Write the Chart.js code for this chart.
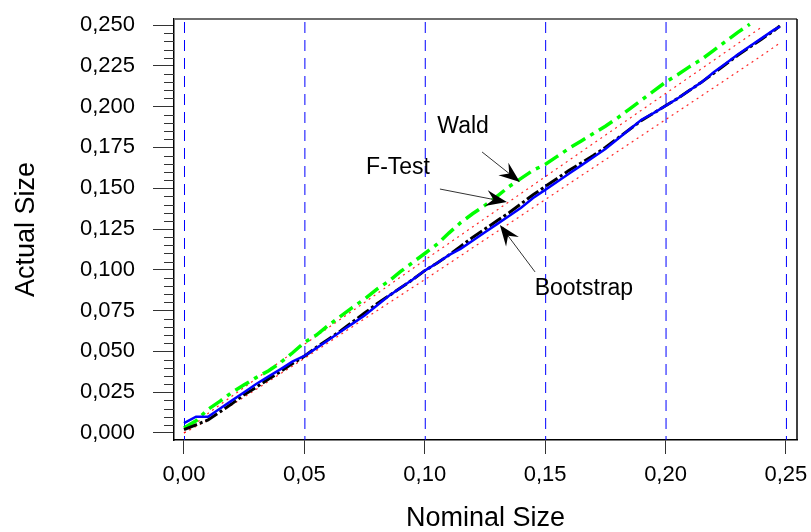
<!DOCTYPE html>
<html><head><meta charset="utf-8">
<script src="https://cdn.jsdelivr.net/npm/chart.js@4.4.0/dist/chart.umd.min.js"></script>
<style>html,body{margin:0;padding:0;background:#fff;}#wrap{width:811px;height:532px;}</style>
</head><body><div id="wrap"><canvas id="c" width="811" height="532"></canvas></div>
<script>
// ---- data ----
const nominal = [0,0.005,0.01,0.015,0.02,0.025,0.03,0.035,0.04,0.045,0.05,0.055,0.06,0.065,0.07,0.075,0.08,0.085,0.09,0.095,0.1,0.105,0.11,0.115,0.12,0.125,0.13,0.135,0.14,0.145,0.15,0.155,0.16,0.165,0.17,0.175,0.18,0.185,0.19,0.195,0.2,0.205,0.21,0.215,0.22,0.225,0.23,0.235,0.24,0.245,0.2475];
const bootstrap = [0.006,0.010,0.010,0.015,0.020,0.025,0.030,0.0345,0.039,0.0437,0.0472,0.052,0.057,0.062,0.067,0.072,0.078,0.084,0.089,0.094,0.0995,0.104,0.109,0.113,0.118,0.123,0.128,0.133,0.138,0.144,0.149,0.154,0.159,0.164,0.169,0.174,0.180,0.186,0.192,0.196,0.2005,0.205,0.210,0.215,0.221,0.2265,0.232,0.237,0.242,0.247,0.249];
const fTest = [0.002,0.005,0.008,0.013,0.018,0.0235,0.028,0.033,0.0375,0.0425,0.047,0.0525,0.0575,0.0625,0.068,0.0735,0.079,0.084,0.089,0.094,0.0995,0.104,0.109,0.1145,0.120,0.125,0.130,0.135,0.1405,0.146,0.151,0.156,0.161,0.1655,0.170,0.175,0.1805,0.186,0.1915,0.196,0.2005,0.205,0.210,0.215,0.2205,0.226,0.2315,0.2365,0.2415,0.2465,0.2495];
const wald = [0.003,0.0075,0.0145,0.0195,0.025,0.0295,0.034,0.038,0.043,0.049,0.0555,0.060,0.066,0.0715,0.077,0.082,0.088,0.093,0.099,0.1045,0.110,0.1155,0.1225,0.129,0.1345,0.1395,0.145,0.151,0.156,0.161,0.1645,0.1695,0.1745,0.179,0.1835,0.188,0.193,0.1985,0.204,0.2095,0.2150,0.2195,0.2245,0.229,0.2345,0.240,0.2455,0.2505,null,null,null];
const bandNominal = [0,0.01,0.025,0.05,0.075,0.1,0.125,0.15,0.175,0.2,0.225,0.24,0.2475];
const bandUpper = [0,0.012,0.028,0.0543,0.080,0.106,0.1315,0.157,0.1825,0.208,0.2335,0.2488,null];
const bandLower = [0,0.008,0.022,0.0457,0.070,0.094,0.1185,0.143,0.1675,0.192,0.2165,0.2313,0.239];
const xTickValues = [0,0.05,0.1,0.15,0.2,0.25];
const xTickLabels = ["0,00","0,05","0,10","0,15","0,20","0,25"];
const yTickValues = [0,0.025,0.05,0.075,0.1,0.125,0.15,0.175,0.2,0.225,0.25];
const yTickLabels = ["0,000","0,025","0,050","0,075","0,100","0,125","0,150","0,175","0,200","0,225","0,250"];
const seriesNames = ["Bootstrap","F-Test","Wald"];

// ---- annotation placement (data coordinates) ----
const notes = [
  {text:"Wald", tx:0.1159, ty:0.1875, from:[0.1238,0.1722], to:[0.1395,0.1538]},
  {text:"F-Test", tx:0.0889, ty:0.1627, from:[0.1063,0.1495], to:[0.1341,0.1415]},
  {text:"Bootstrap", tx:0.1661, ty:0.0885, from:[0.1458,0.0987], to:[0.1312,0.1275]}
];

const FONT = "'Liberation Sans', Arial, sans-serif";
function pts(xs, ys){ return xs.map((x,i)=>({x:x, y:ys[i]})); }

const deco = {
  id:'deco',
  beforeDatasetsDraw(chart){
    const {ctx, chartArea:a, scales:{x}} = chart;
    ctx.save();
    ctx.fillStyle = '#0000ff';
    xTickValues.forEach(v=>{
      const px = x.getPixelForValue(v);
      for (let yy = a.top + 3; yy < a.bottom; yy += 18) {
        ctx.fillRect(px, yy, 1, Math.min(11, a.bottom - yy));
      }
    });
    ctx.restore();
  },
  afterDraw(chart){
    const {ctx, chartArea:a, scales:{x,y}} = chart;
    ctx.save();
    ctx.setLineDash([]);
    ctx.strokeStyle = '#6e6e6e'; ctx.lineWidth = 2;
    ctx.beginPath(); ctx.moveTo(a.left, a.top); ctx.lineTo(a.right, a.top); ctx.stroke();
    ctx.strokeStyle = '#000'; ctx.lineWidth = 1.5;
    ctx.beginPath(); ctx.moveTo(a.right, a.top); ctx.lineTo(a.right, a.bottom); ctx.stroke();
    // minor y ticks
    ctx.strokeStyle = '#333'; ctx.lineWidth = 1;
    for (let i = 0; i <= 50; i++) {
      if (i % 5 === 0) continue;
      const py = Math.round(y.getPixelForValue(i * 0.005)) + 0.5;
      ctx.beginPath(); ctx.moveTo(a.left - 10, py); ctx.lineTo(a.left, py); ctx.stroke();
    }
    // annotations
    ctx.fillStyle = '#000'; ctx.font = "23px " + FONT;
    ctx.textAlign = 'center'; ctx.textBaseline = 'middle';
    notes.forEach(n=>{
      ctx.fillText(n.text, x.getPixelForValue(n.tx), y.getPixelForValue(n.ty));
      const x0 = x.getPixelForValue(n.from[0]), y0 = y.getPixelForValue(n.from[1]);
      const x1 = x.getPixelForValue(n.to[0]), y1 = y.getPixelForValue(n.to[1]);
      const dx = x1 - x0, dy = y1 - y0, len = Math.hypot(dx, dy);
      const ux = dx/len, uy = dy/len, nx = -uy, ny = ux;
      const L = 21, W = 8;
      ctx.strokeStyle = '#333'; ctx.lineWidth = 1;
      ctx.beginPath(); ctx.moveTo(x0, y0); ctx.lineTo(x1 - ux*L*0.6, y1 - uy*L*0.6); ctx.stroke();
      ctx.beginPath();
      ctx.moveTo(x1, y1);
      ctx.lineTo(x1 - ux*L + nx*W, y1 - uy*L + ny*W);
      ctx.lineTo(x1 - ux*L*0.65, y1 - uy*L*0.65);
      ctx.lineTo(x1 - ux*L - nx*W, y1 - uy*L - ny*W);
      ctx.closePath(); ctx.fill();
    });
    ctx.restore();
  }
};

function zeroPad(s){ s.paddingTop = 0; s.paddingBottom = 0; s.paddingLeft = 0; s.paddingRight = 0; }

new Chart(document.getElementById('c'), {
  type:'line',
  data:{datasets:[
    {label:seriesNames[0], data:pts(nominal, bootstrap), borderColor:'#0000ff', borderWidth:2.5, pointRadius:0, tension:0},
    {label:seriesNames[1], data:pts(nominal, fTest), borderColor:'#000000', borderWidth:3, borderDash:[14,3,3,3], pointRadius:0, tension:0},
    {label:seriesNames[2], data:pts(nominal, wald), borderColor:'#00ff00', borderWidth:3.5, borderDash:[16,6,4,6], pointRadius:0, tension:0},
    {label:'upper', data:pts(bandNominal, bandUpper), borderColor:'rgba(255,0,0,0.85)', borderWidth:1.2, borderDash:[2,4], pointRadius:0, tension:0},
    {label:'lower', data:pts(bandNominal, bandLower), borderColor:'rgba(255,0,0,0.85)', borderWidth:1.2, borderDash:[2,4], pointRadius:0, tension:0}
  ]},
  options:{
    responsive:false, animation:false, devicePixelRatio:1,
    layout:{padding:{top:19,right:14,left:0,bottom:0}},
    plugins:{legend:{display:false}, tooltip:{enabled:false}},
    scales:{
      x:{type:'linear', min:-0.00415, max:0.2546,
        afterBuildTicks:s=>{s.ticks = xTickValues.map(v=>({value:v}));},
        afterFit:s=>{s.height = 92; zeroPad(s);},
        ticks:{callback:(v,i)=>xTickLabels[i], font:{family:FONT,size:22}, color:'#000', padding:8, maxRotation:0, autoSkip:false},
        grid:{drawOnChartArea:false, drawTicks:true, tickLength:14, tickColor:'#333', tickWidth:1},
        border:{display:true, color:'#000', width:1.5},
        title:{display:true, text:'Nominal Size', font:{family:FONT,size:27,lineHeight:1}, color:'#000', padding:{top:0,bottom:0}}
      },
      y:{type:'linear', min:-0.0043, max:0.2537,
        afterBuildTicks:s=>{s.ticks = yTickValues.map(v=>({value:v}));},
        afterFit:s=>{s.width = 174; zeroPad(s);},
        ticks:{callback:(v,i)=>yTickLabels[i], font:{family:FONT,size:22}, color:'#000', padding:18, autoSkip:false},
        grid:{drawOnChartArea:false, drawTicks:true, tickLength:21, tickColor:'#333', tickWidth:1},
        border:{display:true, color:'#000', width:1.5},
        title:{display:true, text:'Actual Size', font:{family:FONT,size:27,lineHeight:1}, color:'#000', padding:{top:13,bottom:0}}
      }
    }
  },
  plugins:[deco]
});
</script></body></html>
